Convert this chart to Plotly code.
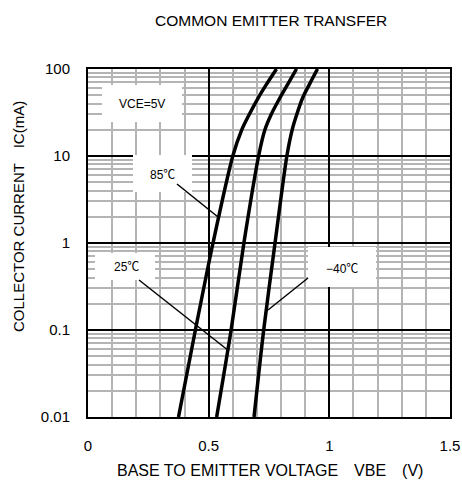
import plotly.graph_objects as go

# Data (VBE in V, IC in mA)
ic_ma = [0.01, 0.1, 1, 10, 20, 30, 47, 67, 100]
vbe_85c = [0.375, 0.445, 0.518, 0.600, 0.637, 0.668, 0.706, 0.740, 0.781]
vbe_25c = [0.533, 0.593, 0.646, 0.707, 0.733, 0.759, 0.796, 0.828, 0.864]
vbe_m40c = [0.688, 0.728, 0.775, 0.824, 0.846, 0.865, 0.890, 0.918, 0.951]

x_ticks = [0, 0.5, 1, 1.5]
x_tick_text = ["0", "0.5", "1", "1.5"]
y_ticks = [0.01, 0.1, 1, 10, 100]
y_tick_text = ["0.01", "0.1", "1", "10", "100"]
x_minor = [0.1, 0.2, 0.3, 0.4, 0.6, 0.7, 0.8, 0.9, 1.1, 1.2, 1.3, 1.4]
y_minor = [d * m for d in [0.01, 0.1, 1, 10] for m in range(2, 10)]

FONT = "Liberation Sans, Arial, Noto Sans CJK JP, sans-serif"

fig = go.Figure()
for v in [vbe_85c, vbe_25c, vbe_m40c]:
    fig.add_trace(go.Scatter(x=v, y=ic_ma, mode="lines",
                             line=dict(color="black", width=3.5, shape="spline", smoothing=0.8),
                             showlegend=False, hoverinfo="skip"))

def px2paper(px, py):
    return (px - 88) / 362, (417 - py) / 348

shapes = []
annotations = []
boxes = [  # (x0, y0, x1, y1) pixel boxes, text, text centre
    ((102, 85, 182, 122), "VCE=5V", (142, 104)),
    ((133, 155, 192, 192), "85℃", (162, 175)),
    ((95, 253, 155, 280), "25℃", (126, 267)),
    ((308, 247, 376, 287), "−40℃", (342, 269)),
]
leaders = [((177, 184), (218, 217)), ((139, 280), (229, 351)), ((308, 278), (268, 310))]
for (x0, y0, x1, y1), txt, (tx, ty) in boxes:
    a0 = px2paper(x0, y1)
    a1 = px2paper(x1, y0)
    shapes.append(dict(type="rect", xref="paper", yref="paper", x0=a0[0], y0=a0[1], x1=a1[0], y1=a1[1],
                       fillcolor="white", line=dict(width=0), layer="above"))
    p = px2paper(tx, ty)
    annotations.append(dict(xref="paper", yref="paper", x=p[0], y=p[1], text=txt, showarrow=False,
                            font=dict(family=FONT, size=12, color="black"), xanchor="center", yanchor="middle"))
for (p0, p1) in leaders:
    a = px2paper(*p0)
    b = px2paper(*p1)
    shapes.append(dict(type="line", xref="paper", yref="paper", x0=a[0], y0=a[1], x1=b[0], y1=b[1],
                       line=dict(color="black", width=1.5), layer="above"))

# y axis title
yt = px2paper(18, 217)
annotations.append(dict(xref="paper", yref="paper", x=yt[0], y=yt[1], text="COLLECTOR CURRENT　IC(mA)",
                        textangle=-90, showarrow=False, font=dict(family=FONT, size=15, color="black"),
                        xanchor="center", yanchor="middle"))
# x axis title
xt = px2paper(270, 470)
annotations.append(dict(xref="paper", yref="paper", x=xt[0], y=xt[1], text="BASE TO EMITTER VOLTAGE　VBE　(V)",
                        showarrow=False, font=dict(family=FONT, size=16, color="black"),
                        xanchor="center", yanchor="middle"))
# title
tt = px2paper(271, 20)
annotations.append(dict(xref="paper", yref="paper", x=tt[0], y=tt[1], text="COMMON EMITTER TRANSFER",
                        showarrow=False, font=dict(family=FONT, size=15.5, color="black"),
                        xanchor="center", yanchor="middle"))

fig.update_layout(
    width=462, height=483,
    margin=dict(l=88, r=12, t=69, b=66, autoexpand=False),
    paper_bgcolor="white", plot_bgcolor="white",
    shapes=shapes, annotations=annotations,
    font=dict(family=FONT, size=15, color="black"),
)
fig.update_xaxes(range=[0, 1.5], tickmode="array", tickvals=x_ticks, ticktext=x_tick_text,
                 showgrid=True, gridcolor="black", gridwidth=1.5,
                 minor=dict(tickmode="array", tickvals=x_minor, showgrid=True, gridcolor="#b4b4b4", gridwidth=1.5),
                 showline=True, linecolor="black", linewidth=2, mirror=True, zeroline=False,
                 ticks="", ticklabelstandoff=14, automargin=False)
fig.update_yaxes(type="log", range=[-2, 2], tickmode="array", tickvals=y_ticks, ticktext=y_tick_text,
                 showgrid=True, gridcolor="black", gridwidth=1.5,
                 minor=dict(tickmode="array", tickvals=y_minor, showgrid=True, gridcolor="#b4b4b4", gridwidth=1.5),
                 showline=True, linecolor="black", linewidth=2, mirror=True, zeroline=False,
                 ticks="", ticklabelstandoff=13, automargin=False)

fig.write_html("out.html")
